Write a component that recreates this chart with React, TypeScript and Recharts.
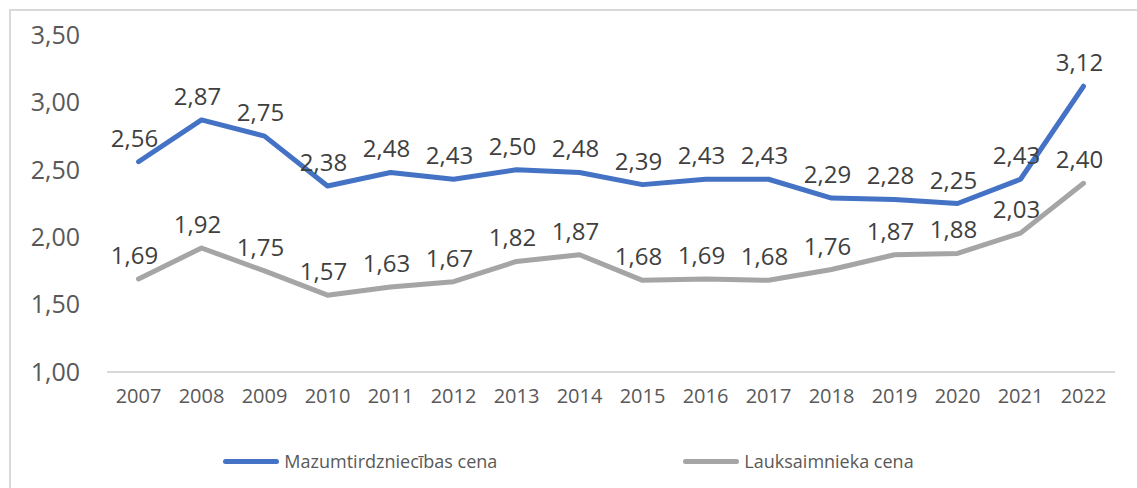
import React from 'react';
import { LineChart, Line, XAxis, YAxis, Legend, LabelList } from 'recharts';

const years = ['2007', '2008', '2009', '2010', '2011', '2012', '2013', '2014', '2015', '2016', '2017', '2018', '2019', '2020', '2021', '2022'];
const retailPrice = [2.56, 2.87, 2.75, 2.38, 2.48, 2.43, 2.5, 2.48, 2.39, 2.43, 2.43, 2.29, 2.28, 2.25, 2.43, 3.12];
const farmerPrice = [1.69, 1.92, 1.75, 1.57, 1.63, 1.67, 1.82, 1.87, 1.68, 1.69, 1.68, 1.76, 1.87, 1.88, 2.03, 2.4];
const yTicks = [1, 1.5, 2, 2.5, 3, 3.5];

const series = [
  { key: 'retail', name: 'Mazumtirdzniecības cena', color: '#4472C4' },
  { key: 'farmer', name: 'Lauksaimnieka cena', color: '#A5A5A5' }
];

const data = years.map((year, i) => ({
  year,
  retail: retailPrice[i],
  farmer: farmerPrice[i]
}));

const FONT = '"Open Sans", "Noto Sans", sans-serif';
const fmt = (v: number) => v.toFixed(2).replace('.', ',');

// legend order kept as in the source (recharts sorts it by name otherwise)
const renderLegend = () => (
  <div style={{ display: 'flex', justifyContent: 'center', gap: 186, fontFamily: FONT, fontSize: 18, color: '#595959' }}>
    {series.map(s => (
      <div key={s.key} style={{ display: 'flex', alignItems: 'center' }}>
        <span style={{ display: 'inline-block', width: 56, height: 5, borderRadius: 3, background: s.color, marginRight: 5 }} />
        <span>{s.name}</span>
      </div>
    ))}
  </div>
);

const renderLabel = (props: any) => {
  const { x, y, value } = props;
  return (
    <text x={x - 4} y={y - 15} textAnchor="middle" fill="#404040" fontSize={24} fontFamily={FONT}>
      {fmt(value)}
    </text>
  );
};

export default function App() {
  return (
    <div style={{ position: 'absolute', left: 0, top: 0, width: 1137, height: 488, overflow: 'hidden', background: '#fff' }}>
      <div style={{ position: 'absolute', left: 9, top: 9, width: 1300, height: 700, border: '2px solid #d9d9d9' }} />
      <div style={{ position: 'absolute', left: 0, top: 0 }}>
        <LineChart width={1137} height={488} data={data} margin={{ top: 35, right: 22, left: 0, bottom: 50 }}>
          <XAxis
            dataKey="year"
            padding={{ left: 31.5, right: 31.5 }}
            tickLine={false}
            tickSize={0}
            tickMargin={17}
            axisLine={{ stroke: '#d9d9d9', strokeWidth: 2 }}
            tick={{ fill: '#595959', fontSize: 20, fontFamily: FONT }}
            height={30}
          />
          <YAxis
            domain={[1, 3.5]}
            ticks={yTicks}
            tickFormatter={fmt}
            axisLine={false}
            tickLine={false}
            tickSize={0}
            tickMargin={27}
            width={107}
            tick={{ fill: '#595959', fontSize: 25, fontFamily: FONT }}
          />
          <Legend
            verticalAlign="bottom"
            height={36}
            content={renderLegend}
            wrapperStyle={{ bottom: 3, left: 0, width: 1137 }}
          />
          {series.map(s => (
            <Line
              key={s.key}
              type="linear"
              dataKey={s.key}
              name={s.name}
              stroke={s.color}
              strokeWidth={5}
              strokeLinecap="round"
              strokeLinejoin="round"
              dot={false}
              isAnimationActive={false}
            >
              <LabelList dataKey={s.key} content={renderLabel} />
            </Line>
          ))}
        </LineChart>
      </div>
    </div>
  );
}
